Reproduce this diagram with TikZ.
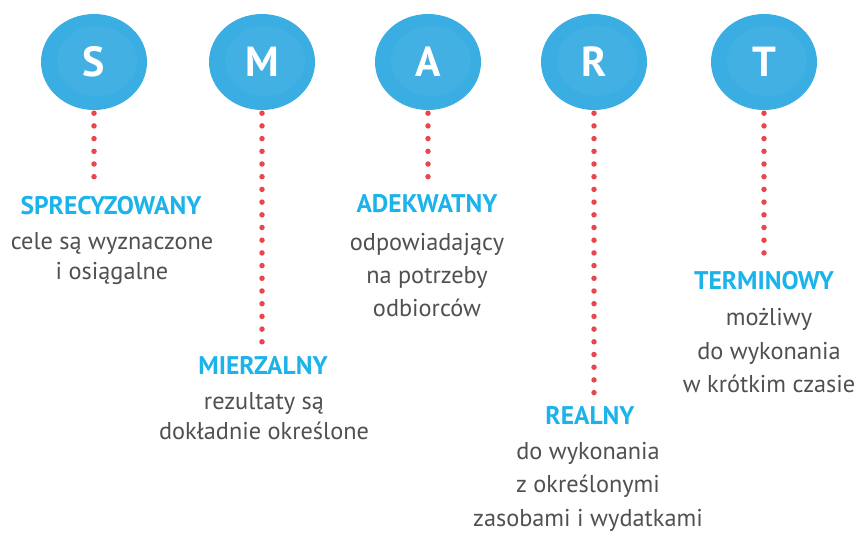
\documentclass[tikz,border=0pt]{standalone}
\usepackage{fontspec}
\setmainfont{PT Sans}
\usetikzlibrary{shapes.geometric}
\definecolor{bubble}{HTML}{3AADE2}
\definecolor{bubblelight}{HTML}{7FCDF0}
\definecolor{dotred}{HTML}{E8464F}
\definecolor{titleblue}{HTML}{1BB3E9}
\definecolor{bodygray}{HTML}{505050}
\tikzset{
  bubbleshape/.style={ellipse, fill=bubble, minimum width=106pt, minimum height=96pt, inner sep=0pt,
    text=white, font=\fontsize{42}{42}\selectfont\bfseries,
    path picture={\fill[bubblelight, opacity=0.12]
      ([xshift=3pt,yshift=1pt]path picture bounding box.center) ellipse (40pt and 35pt);}},
  dotline/.style={draw=dotred, line width=5.5pt, line cap=round, dash pattern=on 0pt off 12.7pt},
  ttl/.style={anchor=base, inner sep=0pt, text=titleblue, font=\fontsize{25.5}{25.5}\selectfont\bfseries},
  bodyline/.style={anchor=base, inner sep=0pt, text=bodygray, font=\fontsize{24.3}{24.3}\selectfont},
}
\begin{document}
\begin{tikzpicture}[x=1pt,y=-1pt]
\useasboundingbox (0,0) rectangle (858,533);
% bubbles
\node[bubbleshape] (cS) at (94,62) {S};
\node[bubbleshape] (cM) at (262,62) {M};
\node[bubbleshape] (cA) at (428,62) {A};
\node[bubbleshape] (cR) at (594,62) {R};
\node[bubbleshape] (cT) at (764,62) {T};
% end points of dotted lines
\coordinate (eS) at (94,185);
\coordinate (eM) at (262,348);
\coordinate (eA) at (428,185);
\coordinate (eR) at (594,395);
\coordinate (eT) at (764,258);
\draw[dotline] ([yshift=-3pt]cS.south) -- (eS);
\draw[dotline] ([yshift=-3pt]cM.south) -- (eM);
\draw[dotline] ([yshift=-3pt]cA.south) -- (eA);
\draw[dotline] ([yshift=-3pt]cR.south) -- (eR);
\draw[dotline] ([yshift=-3pt]cT.south) -- (eT);
% S
\node[ttl] (tS) at (111,214) {SPRECYZOWANY};
\node[bodyline] (bS1) at (112,249) {cele są wyznaczone};
\node[bodyline] (bS2) at (112,279) {i osiągalne};
% M
\node[ttl] (tM) at (263,374) {MIERZALNY};
\node[bodyline] (bM1) at (264,409) {rezultaty są};
\node[bodyline] (bM2) at (264,439) {dokładnie określone};
% A
\node[ttl] (tA) at (427,212) {ADEKWATNY};
\node[bodyline] (bA1) at (427,250) {odpowiadający};
\node[bodyline] (bA2) at (427,283) {na potrzeby};
\node[bodyline] (bA3) at (427,316) {odbiorców};
% R
\node[ttl] (tR) at (590,424) {REALNY};
\node[bodyline] (bR1) at (588,459) {do wykonania};
\node[bodyline] (bR2) at (588,492) {z określonymi};
\node[bodyline] (bR3) at (588,526) {zasobami i wydatkami};
% T
\node[ttl] (tT) at (764,289) {TERMINOWY};
\node[bodyline] (bT1) at (769,325) {możliwy};
\node[bodyline] (bT2) at (769,359) {do wykonania};
\node[bodyline] (bT3) at (769,392) {w krótkim czasie};
\end{tikzpicture}
\end{document}
